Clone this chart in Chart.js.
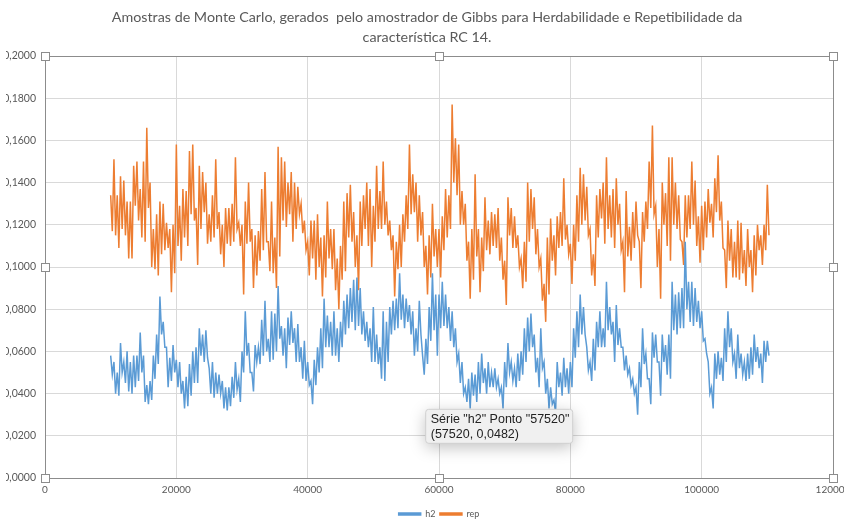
<!DOCTYPE html>
<html>
<head>
<meta charset="utf-8">
<script src="https://cdn.jsdelivr.net/npm/chart.js@4.4.1/dist/chart.umd.min.js"></script>
<style>
  html, body { margin: 0; padding: 0; background: #fff; overflow: hidden; }
  #clip { position: absolute; left: 6px; top: 0; width: 838px; height: 521px; overflow: hidden; }
  #wrap { position: absolute; left: -16px; top: 0; width: 854px; height: 521px; }
</style>
</head>
<body>
<div id="clip"><div id="wrap"><canvas id="chart"></canvas></div></div>
<script>
// cadeias: máximo e mínimo em cada janela de 500 iterações, a partir de 10000
const xStart = 10000;
const xStep = 500;

const h2Max = [
  0.058,0.055,0.050,0.064,0.055,0.060,0.055,0.058,0.058,0.069,0.058,
  0.044,0.046,0.058,0.068,0.086,0.074,0.062,0.057,0.063,0.056,
  0.055,0.046,0.048,0.054,0.060,0.062,0.071,0.068,0.070,0.052,
  0.055,0.050,0.049,0.046,0.043,0.043,0.048,0.055,0.047,0.060,
  0.079,0.064,0.050,0.063,0.062,0.075,0.084,0.066,0.079,0.078,
  0.091,0.072,0.071,0.076,0.079,0.071,0.073,0.062,0.065,0.055,
  0.046,0.056,0.062,0.071,0.085,0.077,0.074,0.079,0.071,0.074,
  0.084,0.087,0.090,0.094,0.095,0.090,0.079,0.074,0.071,0.081,
  0.068,0.062,0.079,0.074,0.081,0.084,0.085,0.097,0.087,0.085,
  0.082,0.079,0.071,0.084,0.058,0.066,0.081,0.097,0.087,0.087,
  0.093,0.087,0.081,0.079,0.071,0.059,0.055,0.043,0.047,0.050,
  0.049,0.055,0.059,0.052,0.055,0.050,0.052,0.047,0.043,0.055,
  0.064,0.055,0.052,0.059,0.060,0.071,0.076,0.078,0.068,0.057,
  0.071,0.055,0.047,0.043,0.037,0.055,0.050,0.057,0.052,0.055,
  0.071,0.079,0.087,0.081,0.062,0.055,0.066,0.074,0.079,0.071,
  0.093,0.081,0.074,0.082,0.071,0.062,0.058,0.052,0.047,0.043,
  0.055,0.071,0.059,0.047,0.069,0.068,0.055,0.068,0.063,0.068,
  0.093,0.087,0.088,0.090,0.112,0.093,0.093,0.090,0.084,0.079,
  0.066,0.055,0.043,0.059,0.060,0.057,0.071,0.079,0.071,0.059,
  0.068,0.059,0.055,0.059,0.062,0.068,0.062,0.059,0.065,0.065
];
const h2Min = [
  0.049,0.040,0.039,0.050,0.045,0.041,0.040,0.043,0.046,0.050,0.036,
  0.035,0.037,0.047,0.054,0.068,0.062,0.043,0.046,0.050,0.043,
  0.040,0.033,0.034,0.039,0.045,0.045,0.058,0.055,0.057,0.040,
  0.038,0.040,0.040,0.033,0.032,0.034,0.038,0.042,0.036,0.050,
  0.058,0.050,0.041,0.055,0.054,0.058,0.060,0.055,0.056,0.060,
  0.066,0.058,0.052,0.063,0.064,0.055,0.055,0.047,0.046,0.044,
  0.035,0.044,0.050,0.052,0.062,0.062,0.058,0.058,0.055,0.062,
  0.068,0.071,0.074,0.070,0.072,0.068,0.065,0.062,0.055,0.055,
  0.054,0.047,0.046,0.055,0.068,0.070,0.071,0.075,0.071,0.074,
  0.068,0.058,0.060,0.068,0.049,0.054,0.065,0.070,0.058,0.071,
  0.072,0.071,0.065,0.062,0.055,0.045,0.040,0.036,0.033,0.039,
  0.036,0.040,0.045,0.040,0.043,0.043,0.043,0.040,0.033,0.043,
  0.050,0.046,0.043,0.046,0.049,0.055,0.060,0.062,0.050,0.043,
  0.052,0.040,0.033,0.035,0.031,0.043,0.039,0.043,0.040,0.043,
  0.057,0.062,0.068,0.068,0.051,0.046,0.051,0.062,0.062,0.062,
  0.070,0.068,0.055,0.063,0.062,0.051,0.049,0.044,0.040,0.030,
  0.043,0.054,0.047,0.035,0.057,0.055,0.039,0.055,0.049,0.047,
  0.070,0.068,0.071,0.071,0.080,0.074,0.072,0.074,0.071,0.065,
  0.059,0.040,0.033,0.047,0.049,0.046,0.055,0.062,0.055,0.047,
  0.052,0.049,0.046,0.047,0.049,0.055,0.052,0.045,0.055,0.058
];

const repMax = [
  0.134,0.151,0.134,0.143,0.141,0.131,0.131,0.148,0.150,0.137,0.150,
  0.166,0.140,0.118,0.125,0.131,0.130,0.121,0.118,0.120,0.158,
  0.129,0.137,0.136,0.155,0.158,0.128,0.148,0.145,0.140,0.125,
  0.134,0.151,0.126,0.120,0.128,0.128,0.130,0.152,0.121,0.120,
  0.131,0.140,0.118,0.115,0.117,0.137,0.145,0.112,0.131,0.114,
  0.157,0.152,0.150,0.140,0.145,0.140,0.138,0.130,0.122,0.112,
  0.122,0.122,0.125,0.114,0.115,0.131,0.118,0.118,0.104,0.110,
  0.131,0.135,0.139,0.126,0.115,0.131,0.134,0.140,0.137,0.129,
  0.148,0.136,0.150,0.131,0.122,0.115,0.112,0.120,0.125,0.134,
  0.158,0.144,0.140,0.134,0.126,0.110,0.115,0.130,0.118,0.118,
  0.124,0.137,0.134,0.177,0.161,0.158,0.136,0.130,0.112,0.118,
  0.144,0.118,0.114,0.133,0.122,0.126,0.125,0.128,0.114,0.103,
  0.133,0.128,0.124,0.115,0.104,0.112,0.140,0.137,0.133,0.118,
  0.104,0.092,0.114,0.123,0.115,0.124,0.126,0.142,0.120,0.111,
  0.120,0.134,0.147,0.144,0.138,0.118,0.106,0.134,0.137,0.140,
  0.152,0.134,0.137,0.142,0.130,0.112,0.136,0.119,0.126,0.131,
  0.112,0.126,0.131,0.150,0.167,0.129,0.118,0.140,0.135,0.152,
  0.152,0.140,0.134,0.112,0.134,0.134,0.150,0.141,0.124,0.129,
  0.131,0.137,0.130,0.142,0.153,0.131,0.108,0.122,0.118,0.112,
  0.122,0.121,0.108,0.118,0.108,0.115,0.120,0.115,0.120,0.139
];
const repMin = [
  0.117,0.115,0.109,0.118,0.115,0.104,0.104,0.129,0.122,0.114,0.112,
  0.128,0.100,0.099,0.096,0.106,0.108,0.109,0.088,0.097,0.110,
  0.103,0.114,0.110,0.125,0.122,0.101,0.118,0.126,0.111,0.112,
  0.114,0.118,0.106,0.100,0.111,0.110,0.112,0.118,0.110,0.087,
  0.111,0.112,0.090,0.096,0.103,0.108,0.112,0.098,0.097,0.090,
  0.105,0.122,0.119,0.125,0.112,0.118,0.125,0.116,0.108,0.096,
  0.104,0.094,0.100,0.086,0.095,0.104,0.099,0.089,0.080,0.094,
  0.098,0.114,0.112,0.100,0.089,0.110,0.118,0.110,0.100,0.112,
  0.118,0.118,0.120,0.115,0.108,0.086,0.099,0.100,0.112,0.118,
  0.125,0.126,0.112,0.115,0.100,0.087,0.095,0.105,0.100,0.095,
  0.108,0.114,0.118,0.140,0.134,0.120,0.120,0.103,0.085,0.094,
  0.105,0.088,0.098,0.108,0.106,0.110,0.109,0.103,0.094,0.082,
  0.115,0.109,0.109,0.100,0.090,0.093,0.112,0.118,0.106,0.100,
  0.084,0.074,0.087,0.103,0.096,0.109,0.110,0.113,0.106,0.092,
  0.103,0.112,0.120,0.122,0.115,0.096,0.091,0.114,0.123,0.111,
  0.118,0.114,0.109,0.120,0.108,0.088,0.105,0.103,0.109,0.115,
  0.090,0.112,0.118,0.128,0.125,0.100,0.085,0.120,0.110,0.103,
  0.120,0.118,0.113,0.101,0.114,0.118,0.120,0.110,0.102,0.108,
  0.114,0.121,0.114,0.126,0.122,0.109,0.090,0.103,0.095,0.095,
  0.094,0.097,0.091,0.100,0.088,0.096,0.108,0.101,0.108,0.115
];

const titleLines = [
  'Amostras de Monte Carlo, gerados  pelo amostrador de Gibbs para Herdabilidade e Repetibilidade da',
  'característica RC 14.'
];
const xMin = 0, xMax = 120000, xTickStep = 20000;
const yMin = 0, yMax = 0.2, yTickStep = 0.02;

// ponto destacado pelo Excel
const hoverPoint = { serie: 'h2', x: 57520, y: 0.0482 };

// cada janela vira dois pontos: o máximo e depois o mínimo
function toPoints(maxs, mins) {
  const pts = [];
  const n = Math.min(maxs.length, mins.length);
  for (let i = 0; i < n; i++) {
    pts.push({ x: xStart + i * xStep, y: maxs[i] });
    pts.push({ x: xStart + i * xStep + xStep / 2, y: mins[i] });
  }
  return pts;
}

const fmtComma = v => v.toFixed(4).replace('.', ',');
const fontFamily = 'Lato, "Open Sans", sans-serif';

// título centrado como no Excel (um pouco à esquerda do centro da área de plotagem)
const excelTitle = {
  id: 'excelTitle',
  afterDraw(chart) {
    const { ctx, chartArea: a } = chart;
    const cx = (a.left + a.right) / 2 - 12;
    ctx.save();
    ctx.fillStyle = '#595959';
    ctx.font = '14.3px ' + fontFamily;
    ctx.textAlign = 'center';
    ctx.textBaseline = 'middle';
    titleLines.forEach((line, i) => ctx.fillText(line, cx, 17 + i * 20));
    ctx.restore();
  }
};

// moldura de seleção da área de plotagem + alças
const selectionFrame = {
  id: 'selectionFrame',
  afterDatasetsDraw(chart) {
    const { ctx, chartArea: a } = chart;
    ctx.save();
    ctx.strokeStyle = '#8c8c8c';
    ctx.lineWidth = 1;
    ctx.strokeRect(Math.round(a.left) + 0.5, Math.round(a.top) + 0.5,
      Math.round(a.right - a.left), Math.round(a.bottom - a.top));
    const mx = (a.left + a.right) / 2, my = (a.top + a.bottom) / 2;
    const handles = [
      [a.left, a.top], [mx, a.top], [a.right, a.top],
      [a.left, my], [a.right, my],
      [a.left, a.bottom], [mx, a.bottom], [a.right, a.bottom]
    ];
    handles.forEach(([hx, hy]) => {
      ctx.fillStyle = '#fff';
      ctx.strokeStyle = '#8c8c8c';
      ctx.fillRect(Math.round(hx) - 4, Math.round(hy) - 4, 9, 9);
      ctx.strokeRect(Math.round(hx) - 3.5, Math.round(hy) - 3.5, 8, 8);
    });
    ctx.restore();
  }
};

// dica de ferramenta do Excel
const excelTip = {
  id: 'excelTip',
  afterDraw(chart) {
    const { ctx, scales } = chart;
    const px = scales.x.getPixelForValue(hoverPoint.x);
    const py = scales.y.getPixelForValue(hoverPoint.y);
    const bx = px + 3, by = py + 33, bw = 147, bh = 34;
    const line1 = 'Série "' + hoverPoint.serie + '" Ponto "' + hoverPoint.x + '"';
    const line2 = '(' + hoverPoint.x + ', ' + fmtComma(hoverPoint.y) + ')';
    ctx.save();
    ctx.shadowColor = 'rgba(0,0,0,0.25)';
    ctx.shadowBlur = 16;
    ctx.shadowOffsetY = 4;
    ctx.fillStyle = '#f0f0f0';
    ctx.beginPath();
    ctx.roundRect(bx, by, bw, bh, 3);
    ctx.fill();
    ctx.shadowColor = 'transparent';
    ctx.strokeStyle = '#d0d0d0';
    ctx.lineWidth = 1;
    ctx.stroke();
    ctx.fillStyle = '#222';
    ctx.font = '12.5px "Liberation Sans", Arial, sans-serif';
    ctx.textBaseline = 'middle';
    ctx.fillText(line1, bx + 5, by + 10);
    ctx.fillText(line2, bx + 5, by + 25);
    ctx.restore();
  }
};

new Chart(document.getElementById('chart'), {
  type: 'line',
  data: {
    datasets: [
      {
        label: 'h2',
        data: toPoints(h2Max, h2Min),
        borderColor: '#5B9BD5',
        backgroundColor: '#5B9BD5',
        borderWidth: 1.5,
        pointRadius: 0,
        tension: 0
      },
      {
        label: 'rep',
        data: toPoints(repMax, repMin),
        borderColor: '#ED7D31',
        backgroundColor: '#ED7D31',
        borderWidth: 1.5,
        pointRadius: 0,
        tension: 0
      }
    ]
  },
  options: {
    responsive: true,
    maintainAspectRatio: false,
    animation: false,
    events: [],
    layout: { padding: { left: 0, right: 11, top: 56, bottom: 0 } },
    plugins: {
      tooltip: { enabled: false },
      title: { display: false },
      legend: {
        position: 'bottom',
        fullSize: false,
        maxHeight: 16,
        labels: {
          color: '#595959',
          font: { family: fontFamily, size: 9 },
          boxWidth: 22,
          boxHeight: 2,
          padding: 4.5
        }
      }
    },
    scales: {
      x: {
        type: 'linear',
        min: xMin,
        max: xMax,
        ticks: {
          stepSize: xTickStep,
          color: '#595959',
          font: { family: fontFamily, size: 10 },
          padding: 6,
          maxRotation: 0,
          callback: v => String(v)
        },
        grid: { color: '#d9d9d9', drawTicks: false },
        border: { display: false },
        afterFit: s => { s.height = 27; s.paddingLeft = 0; s.paddingRight = 0; }
      },
      y: {
        min: yMin,
        max: yMax,
        ticks: {
          stepSize: yTickStep,
          color: '#595959',
          font: { family: fontFamily, size: 10.5 },
          padding: 9,
          callback: v => fmtComma(v)
        },
        grid: { color: '#d9d9d9', drawTicks: false },
        border: { display: false },
        afterFit: s => { s.width = 55; s.paddingTop = 0; s.paddingBottom = 0; }
      }
    }
  },
  plugins: [excelTitle, selectionFrame, excelTip]
});
</script>
</body>
</html>
